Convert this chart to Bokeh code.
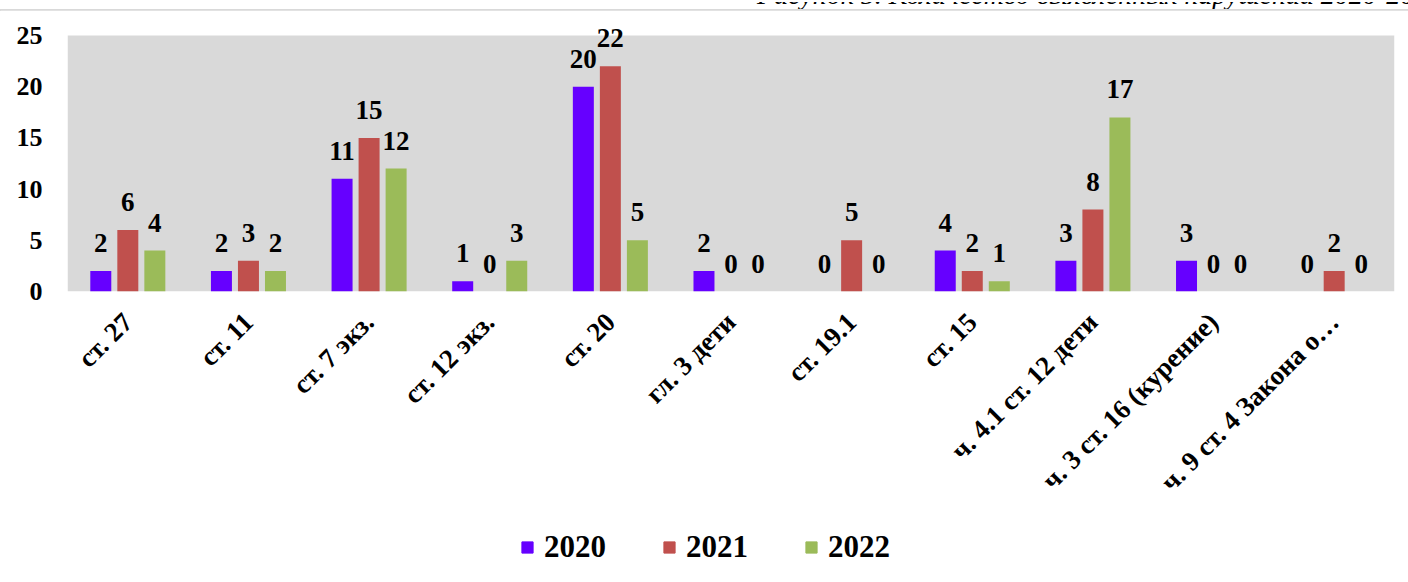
from bokeh.plotting import figure
from bokeh.layouts import column
from bokeh.models import (ColumnDataSource, FactorRange, Legend, LegendItem, FixedTicker,
                          Range1d, Div, BoxAnnotation)
from bokeh.transform import dodge
from bokeh.core.properties import value
from bokeh.embed import file_html
from bokeh.resources import INLINE
import math

caption = "Рисунок 5. Количество выявленных нарушений 2020-2022"
categories = ["ст. 27", "ст. 11", "ст. 7 экз.", "ст. 12 экз.", "ст. 20", "гл. 3 дети",
              "ст. 19.1", "ст. 15", "ч. 4.1 ст. 12 дети", "ч. 3 ст. 16 (курение)",
              "ч. 9 ст. 4 Закона о…"]
years = ["2020", "2021", "2022"]
v2020 = [2, 2, 11, 1, 20, 2, 0, 4, 3, 3, 0]
v2021 = [6, 3, 15, 0, 22, 0, 5, 2, 8, 0, 2]
v2022 = [4, 2, 12, 3, 5, 0, 0, 1, 17, 0, 0]
colors = ["#6600FF", "#C0504D", "#9BBB59"]
yticks = [0, 5, 10, 15, 20, 25]

FONT = "Liberation Serif"

src = ColumnDataSource(dict(
    cat=categories,
    v2020=v2020, v2021=v2021, v2022=v2022,
    t2020=[str(v) for v in v2020], t2021=[str(v) for v in v2021], t2022=[str(v) for v in v2022],
))

# top strip: cut-off caption and thin grey rule
head = Div(text=(
    '<div style="position:relative;width:1408px;height:10px;overflow:hidden;">'
    '<div style="position:absolute;left:757px;top:-21px;font-family:\'Liberation Serif\';'
    'font-style:italic;font-size:28px;line-height:28px;white-space:nowrap;color:#000;">'
    + caption + '</div>'
    '<div style="position:absolute;left:0;top:7px;width:1408px;height:2px;background:#D9D9D9;"></div>'
    '</div>'), width=1408, height=10, margin=(0, 0, 0, 0))

# frame extends 7px above the grey plot area so that labels above 25 are not clipped
ymax = yticks[-1] + 7 * yticks[-1] / 256
p = figure(x_range=FactorRange(*categories), y_range=(0, ymax),
           width=1408, height=510, output_backend="svg", toolbar_location=None,
           min_border_left=67, min_border_right=14, min_border_top=18, min_border_bottom=229)
p.background_fill_color = "white"
p.border_fill_color = "white"
p.outline_line_color = None
p.xgrid.grid_line_color = None
p.ygrid.grid_line_color = None
p.add_layout(BoxAnnotation(bottom=yticks[0], top=yticks[-1], fill_color="#D9D9D9",
                           fill_alpha=1, line_color=None, level="underlay"))

offsets = [-0.224, 0.0, 0.224]
for yr, off, col in zip(years, offsets, colors):
    p.vbar(x=dodge("cat", off, range=p.x_range), top="v" + yr, width=0.174,
           source=src, fill_color=col, line_color=None)
    p.text(x=dodge("cat", off, range=p.x_range), y="v" + yr, text="t" + yr, source=src,
           text_font=value(FONT), text_font_style="bold", text_font_size="27px",
           text_align="center", text_baseline="bottom", y_offset=-19, text_color="black")

p.yaxis.ticker = FixedTicker(ticks=yticks)
p.yaxis.axis_line_color = None
p.yaxis.major_tick_line_color = None
p.yaxis.minor_tick_line_color = None
p.yaxis.major_label_standoff = 19
p.yaxis.major_label_text_font = FONT
p.yaxis.major_label_text_font_style = "bold"
p.yaxis.major_label_text_font_size = "26px"
p.yaxis.major_label_text_color = "black"

p.xaxis.axis_line_color = None
p.xaxis.major_tick_line_color = None
p.xaxis.minor_tick_line_color = None
p.xaxis.major_label_orientation = math.pi / 4
p.xaxis.major_label_standoff = 20
p.xaxis.major_label_text_font = FONT
p.xaxis.major_label_text_font_style = "bold"
p.xaxis.major_label_text_font_size = "27px"
p.xaxis.major_label_text_color = "black"

# legend strip below the chart (same bars, drawn out of view; only the legend shows)
pl = figure(x_range=p.x_range, y_range=Range1d(100, 101),
            width=1408, height=62, output_backend="svg", toolbar_location=None,
            x_axis_location=None, y_axis_location=None,
            min_border_left=67, min_border_right=14, min_border_top=0, min_border_bottom=0)
pl.outline_line_color = None
pl.grid.grid_line_color = None
pl.background_fill_color = "white"
lr = []
for yr, off, col in zip(years, offsets, colors):
    lr.append(pl.vbar(x=dodge("cat", off, range=p.x_range), top="v" + yr, width=0.174,
                      source=src, fill_color=col, line_color=col))

legend = Legend(items=[LegendItem(label=yr, renderers=[r]) for yr, r in zip(years, lr)],
                orientation="horizontal", location=(453, 17),
                glyph_width=14, glyph_height=14, label_standoff=10, spacing=56,
                padding=0, margin=0, border_line_color=None, background_fill_alpha=0,
                label_text_font=FONT, label_text_font_style="bold",
                label_text_font_size="31px", label_text_color="black")
pl.add_layout(legend, "center")

layout = column(head, p, pl, spacing=0)
open("out.html", "w").write(file_html(layout, INLINE))
